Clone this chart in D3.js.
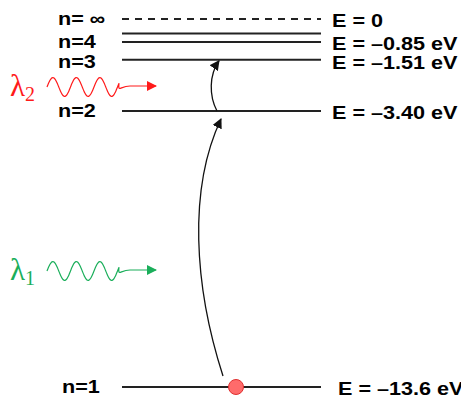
<!DOCTYPE html>
<html>
<head>
<meta charset="utf-8">
<script src="https://cdn.jsdelivr.net/npm/d3@7"></script>
<style>
  body { margin: 0; background: #fff; }
  svg { display: block; }
</style>
</head>
<body>
<div id="chart"></div>
<script>
// Energy levels of hydrogen (n, energy in eV)
var levelN = ["1", "2", "3", "4", "5", "\u221e"];
var levelE = [-13.6, -3.40, -1.51, -0.85, -0.54, 0];
// labels on the left / right of each level ("" = none)
var leftLabels = ["n=1", "n=2", "n=3", "n=4", "", "n= \u221e"];
var rightLabels = ["E = \u201313.6 eV", "E = \u20133.40 eV", "E = \u20131.51 eV", "E = \u20130.85 eV", "", "E = 0"];

// photons: wavelength subscript, colour, and which transition they drive
var photonNames = ["1", "2"];
var photonColors = ["#1aae5a", "#ff1a1a"];
var transitions = [[0, 1], [1, 2]];

var w = 461, h = 397;

var y = d3.scaleLinear()
  .domain([-13.6, 0])
  .range([387, 19]);

var x = d3.scaleLinear()
  .domain([0, 1])
  .range([122, 321]);

var svg = d3.select("#chart").append("svg")
  .attr("width", w)
  .attr("height", h);

var defs = svg.append("defs");
function marker(id, color) {
  defs.append("marker")
    .attr("id", id)
    .attr("viewBox", "0 0 10 10")
    .attr("refX", 9).attr("refY", 5)
    .attr("markerWidth", 10).attr("markerHeight", 10)
    .attr("markerUnits", "userSpaceOnUse")
    .attr("orient", "auto")
    .append("path")
    .attr("d", "M0,0 L10,5 L0,10 Z")
    .attr("fill", color);
}
marker("head-black", "#111");
photonColors.forEach(function(c, i) { marker("head-" + i, c); });

// level lines
svg.selectAll("line.level")
  .data(levelE)
  .enter()
  .append("line")
  .attr("class", "level")
  .attr("x1", x(0))
  .attr("x2", x(1))
  .attr("y1", function(d) { return y(d); })
  .attr("y2", function(d) { return y(d); })
  .attr("stroke", "#222")
  .attr("stroke-width", 2)
  .attr("stroke-dasharray", function(d) { return d === 0 ? "7,6" : null; });

// the labels use a wide bold sans, so stretch them horizontally a bit
var stretch = 1.2;

// left labels n=...
svg.selectAll("text.nlab")
  .data(levelE)
  .enter()
  .append("text")
  .attr("class", "nlab")
  .attr("transform", function(d, i) {
    var lx = i === 0 ? 62 : 58;
    var ly = i === 2 ? y(d) + 2 : y(d);
    return "translate(" + lx + "," + ly + ") scale(" + stretch + ",1)";
  })
  .attr("dy", "0.36em")
  .style("font-family", "'Liberation Sans', Arial, sans-serif")
  .style("font-weight", "bold")
  .style("font-size", "18px")
  .text(function(d, i) { return leftLabels[i]; });

// right labels E = ...
svg.selectAll("text.elab")
  .data(levelE)
  .enter()
  .append("text")
  .attr("class", "elab")
  .attr("transform", function(d, i) {
    var lx = i === 0 ? 338 : 332;
    var ly = y(d) + (i === 2 ? 3 : 1.5);
    return "translate(" + lx + "," + ly + ") scale(" + stretch + ",1)";
  })
  .attr("dy", "0.36em")
  .style("font-family", "'Liberation Sans', Arial, sans-serif")
  .style("font-weight", "bold")
  .style("font-size", "18px")
  .text(function(d, i) { return rightLabels[i]; });

// excitation arrows (bent to the left)
var ex = 220;
transitions.forEach(function(t, i) {
  var y0 = y(levelE[t[0]]), y1 = y(levelE[t[1]]);
  var p = d3.path();
  if (i === 0) {
    y0 -= 11; y1 += 8;
    p.moveTo(ex + 3, y0);
    p.bezierCurveTo(ex - 26, y0 - 90, ex - 32, y1 + 70, ex + 1, y1);
  } else {
    p.moveTo(ex - 3, y0);
    p.bezierCurveTo(ex - 11, y0 - 15, ex - 11, y1 + 15, ex - 1, y1 + 1);
  }
  svg.append("path")
    .attr("d", p.toString())
    .attr("fill", "none")
    .attr("stroke", "#111")
    .attr("stroke-width", 1.3)
    .attr("marker-end", "url(#head-black)");
});

// electron on ground state
svg.append("circle")
  .attr("cx", 236)
  .attr("cy", y(levelE[0]))
  .attr("r", 7.5)
  .attr("fill", "#ff6b6b")
  .attr("stroke", "#e03030")
  .attr("stroke-width", 1);

// photons: wavy line + arrow, with lambda label
var photonY = [271, 87];
photonNames.forEach(function(name, i) {
  var cy = photonY[i];
  var col = photonColors[i];
  var pts = [];
  for (var k = 0; k <= 72; k++) {
    var px = 47 + k;
    pts.push([px, cy - 9.5 * Math.sin((px - 47) / 23.5 * 2 * Math.PI)]);
  }
  var wave = d3.line().curve(d3.curveBasis)(pts);
  var tail = d3.path();
  tail.moveTo(pts[pts.length - 1][0], pts[pts.length - 1][1]);
  tail.bezierCurveTo(118, cy + 6, 120, cy - 1, 130, cy - 1);
  tail.lineTo(156, cy - 1);
  svg.append("path")
    .attr("d", wave + tail.toString().replace(/^M[^C]*/, ""))
    .attr("fill", "none")
    .attr("stroke", col)
    .attr("stroke-width", 1.2)
    .attr("marker-end", "url(#head-" + i + ")");

  var lab = svg.append("text")
    .attr("x", 10)
    .attr("y", cy + 9)
    .attr("fill", col)
    .style("font-family", "'Liberation Serif', 'Times New Roman', serif")
    .style("font-size", "31px")
    .text("\u03bb");
  lab.append("tspan")
    .attr("dy", 5)
    .style("font-size", "20px")
    .text(name);
});
</script>
</body>
</html>
